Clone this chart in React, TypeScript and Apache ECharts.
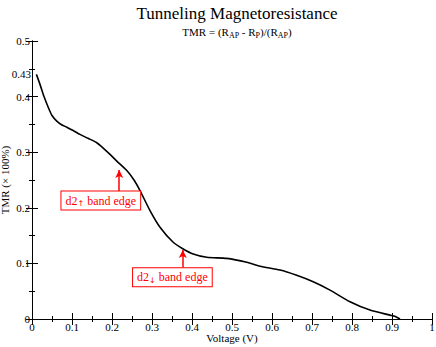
import React, { useEffect, useRef } from "react";
import * as echarts from "echarts";

const voltage = [0.011, 0.02, 0.03, 0.041, 0.05, 0.062, 0.075, 0.087, 0.103, 0.12, 0.14, 0.162, 0.18, 0.195, 0.212, 0.237, 0.255, 0.27, 0.295, 0.32, 0.353, 0.378, 0.403, 0.437, 0.487, 0.537, 0.57, 0.62, 0.66, 0.703, 0.745, 0.795, 0.845, 0.895, 0.907, 0.92];
const tmr = [0.44, 0.422, 0.4, 0.38, 0.366, 0.356, 0.349, 0.345, 0.339, 0.332, 0.325, 0.317, 0.306, 0.296, 0.284, 0.267, 0.25, 0.231, 0.195, 0.165, 0.138, 0.126, 0.117, 0.111, 0.109, 0.102, 0.095, 0.088, 0.079, 0.067, 0.052, 0.031, 0.016, 0.007, 0.005, 0];
const annotations = [
  { label: "d2{sub|↑} band edge", box: [0.172, 0.213], arrow: [[0.218, 0.229], [0.218, 0.268]] },
  { label: "d2{sub|↓} band edge", box: [0.351, 0.075], arrow: [[0.377, 0.093], [0.377, 0.124]] },
];

const FONT = "'Liberation Serif', 'Times New Roman', serif";

export default function App() {
  const ref = useRef<HTMLDivElement>(null);
  useEffect(() => {
    const chart = echarts.init(ref.current!, null, { renderer: "svg" });
    const axisCommon = {
      type: "value",
      min: 0,
      axisLine: { show: true, lineStyle: { color: "#000", width: 1 } },
      axisTick: { show: true, inside: true, length: 6, lineStyle: { color: "#000" } },
      minorTick: { show: true, splitNumber: 2, length: 3, lineStyle: { color: "#000" } },
      splitLine: { show: false },
    };
    const lbl = { fontFamily: FONT, fontSize: 11, color: "#000" };
    chart.setOption({
      animation: false,
      backgroundColor: "#fff",
      textStyle: { fontFamily: FONT },
      title: {
        text: "Tunneling Magnetoresistance",
        subtext: "TMR = (R{sub|AP} - R{sub|P})/(R{sub|AP})",
        left: 232,
        textAlign: "center",
        top: 0,
        itemGap: 3,
        textStyle: { fontFamily: FONT, fontSize: 17, fontWeight: "normal", color: "#000" },
        subtextStyle: {
          fontFamily: FONT, fontSize: 11, color: "#000",
          rich: { sub: { fontFamily: FONT, fontSize: 8, verticalAlign: "bottom", padding: [6, 0, 0, 0], color: "#000" } },
        },
      },
      grid: { left: 32, right: 4, top: 41, bottom: 28, outerBoundsMode: "none", containLabel: false },
      xAxis: [
        {
          ...axisCommon, max: 1, interval: 0.1, position: "bottom",
          name: "Voltage (V)", nameLocation: "middle", nameGap: 13, nameMoveOverlap: false,
          nameTextStyle: { ...lbl, verticalAlign: "top" },
          axisLabel: { ...lbl, margin: 2, formatter: (v: number) => String(Math.round(v * 10) / 10) },
        },
        { ...axisCommon, max: 1, interval: 0.1, position: "top", axisLabel: { show: false } },
      ],
      yAxis: [
        {
          ...axisCommon, max: 0.5, interval: 0.1, position: "left",
          name: "TMR (× 100%)", nameLocation: "middle", nameGap: 22, nameMoveOverlap: false,
          nameTextStyle: lbl,
          axisLabel: { ...lbl, margin: 2, formatter: (v: number) => String(Math.round(v * 10) / 10) },
        },
        { ...axisCommon, max: 0.5, interval: 0.1, position: "right", axisLabel: { show: false } },
      ],
      graphic: [
        { type: "text", x: 31, y: 74, style: { text: "0.43", font: `11px ${FONT}`, fill: "#000", align: "right", verticalAlign: "middle" } },
      ],
      series: [
        {
          type: "line",
          data: voltage.map((v, i) => [v, tmr[i]]),
          smooth: 0.25,
          showSymbol: false,
          lineStyle: { color: "#000", width: 1.6 },
          markLine: {
            silent: true,
            symbol: ["none", "arrow"],
            symbolSize: [6, 8],
            lineStyle: { color: "#f00", width: 1.5, type: "solid" },
            label: { show: false },
            data: annotations.map((a) => [{ coord: a.arrow[0] }, { coord: a.arrow[1] }]),
          },
          markPoint: {
            silent: true,
            symbol: "circle",
            symbolSize: 1,
            itemStyle: { color: "rgba(0,0,0,0)" },
            data: annotations.map((a) => ({
              coord: a.box,
              label: {
                show: true,
                position: "inside",
                formatter: a.label,
                fontFamily: FONT,
                fontSize: 12,
                color: "#f00",
                backgroundColor: "#fff",
                borderColor: "#f00",
                borderWidth: 1,
                padding: [2, 4, 2, 4],
                rich: { sub: { fontFamily: "'DejaVu Sans', sans-serif", fontSize: 8, color: "#f00", verticalAlign: "bottom", padding: [6, 0, 0, 0] } },
              },
            })),
          },
        },
      ],
    });
    return () => chart.dispose();
  }, []);
  return <div ref={ref} style={{ width: 436, height: 347, position: "absolute", left: 0, top: 0 }} />;
}
